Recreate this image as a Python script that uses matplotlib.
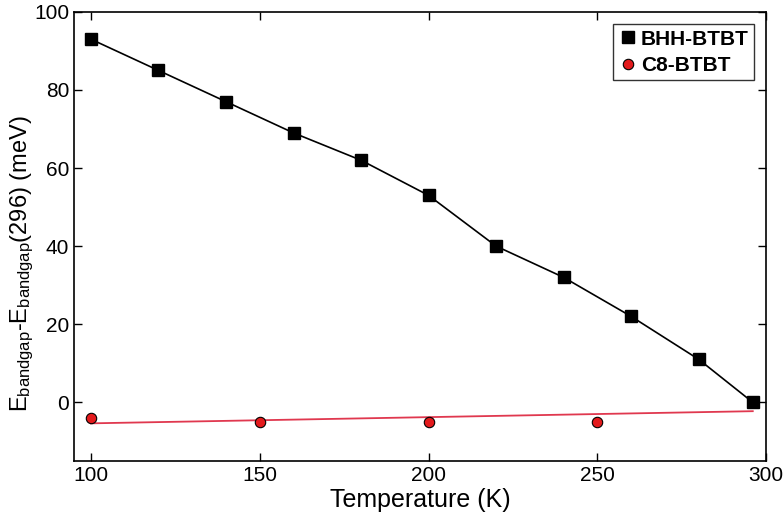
import matplotlib
matplotlib.use("Agg")
import matplotlib.pyplot as plt
import numpy as np

# BHH-BTBT data
t_bhh = [100, 120, 140, 160, 180, 200, 220, 240, 260, 280, 296]
e_bhh = [93, 85, 77, 69, 62, 53, 40, 32, 22, 11, 0]

# C8-BTBT data
t_c8 = [100, 150, 200, 250]
e_c8 = [-4, -5, -5, -5]
# reference point at 296 K used in the fit
t_ref = 296
e_ref = 0

plt.rcParams['font.family'] = ['Liberation Sans', 'DejaVu Sans']
plt.rcParams['mathtext.default'] = 'regular'
plt.rcParams['xtick.direction'] = 'in'
plt.rcParams['ytick.direction'] = 'in'

fig = plt.figure(figsize=(7.84, 5.15), dpi=100)
ax = fig.add_axes([0.0944, 0.105, 0.883, 0.872])

ax.plot(t_bhh, e_bhh, color='black', linewidth=1.2, zorder=2)
ax.plot(t_bhh, e_bhh, linestyle='none', marker='s', markersize=8.5,
        color='black', label='BHH-BTBT', zorder=3)

# linear fit for C8-BTBT
tx = np.array(t_c8 + [t_ref])
ey = np.array(e_c8 + [e_ref])
p = np.polyfit(tx, ey, 1)
xf = np.array([t_c8[0], t_ref])
ax.plot(xf, np.polyval(p, xf), color='#e0384f', linewidth=1.3, zorder=2)
ax.plot(t_c8, e_c8, linestyle='none', marker='o', markersize=7.5,
        markerfacecolor='#e31a1c', markeredgecolor='black', markeredgewidth=0.8,
        label='C8-BTBT', zorder=3)

ax.set_xlim(95, 300)
ax.set_ylim(-15, 100)
ax.set_xticks([100, 150, 200, 250, 300])
ax.set_yticks([0, 20, 40, 60, 80, 100])
ax.tick_params(axis='both', which='both', top=True, right=True,
               labelsize=15, length=6, width=1)
for s in ax.spines.values():
    s.set_linewidth(1.2)

ax.set_xlabel('Temperature (K)', fontsize=18, labelpad=2)
ax.set_ylabel(r'E$_{bandgap}$-E$_{bandgap}$(296) (meV)', fontsize=17)
ax.yaxis.set_label_coords(-0.055, 0.44)

leg = ax.legend(loc='upper right',
                prop={'weight': 'bold', 'size': 15},
                numpoints=1, handletextpad=0.1, borderpad=0.25, fancybox=False,
                handlelength=1.0, labelspacing=0.35, borderaxespad=0.6)
leg.get_frame().set_edgecolor('black')
leg.get_frame().set_linewidth(1.0)

plt.savefig('out.png', dpi=100)
